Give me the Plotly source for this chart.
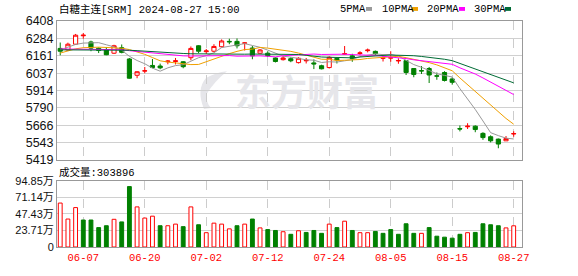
import plotly.graph_objects as go

# ---------------- data ----------------
dates = ["06-04", "06-05", "06-06", "06-07", "06-11", "06-12", "06-13", "06-14", "06-17", "06-18",
         "06-19", "06-20", "06-21", "06-24", "06-25", "06-26", "06-27", "06-28", "07-01", "07-02",
         "07-03", "07-04", "07-05", "07-08", "07-09", "07-10", "07-11", "07-12", "07-15", "07-16",
         "07-17", "07-18", "07-19", "07-22", "07-23", "07-24", "07-25", "07-26", "07-29", "07-30",
         "07-31", "08-01", "08-02", "08-05", "08-06", "08-07", "08-08", "08-09", "08-12", "08-13",
         "08-14", "08-15", "08-16", "08-19", "08-20", "08-21", "08-22", "08-23", "08-26", "08-27"]

opens = [6213, 6202, 6243, 6303, 6259, 6214, 6202, 6179, 6218, 6138,
         6022, 6052, 6092, 6088, 6118, 6120, 6118, 6147, 6232, 6190,
         6193, 6225, 6263, 6263, 6250, 6216, 6179, 6179, 6145, 6133,
         6140, 6112, 6125, 6110, 6090, 6077, 6142, 6172, 6160, 6177,
         6197, 6192, 6143, 6144, 6124, 6126, 6070, 6055, 6070, 6018,
         6042, 5996, 5643, 5656, 5660, 5609, 5585, 5568, 5556, 5605]
highs = [6255, 6254, 6316, 6323, 6268, 6220, 6222, 6239, 6241, 6145,
         6051, 6081, 6138, 6105, 6130, 6145, 6123, 6227, 6236, 6209,
         6243, 6277, 6282, 6284, 6255, 6230, 6209, 6193, 6150, 6160,
         6150, 6150, 6145, 6135, 6097, 6157, 6150, 6230, 6175, 6193,
         6212, 6198, 6168, 6193, 6143, 6128, 6070, 6088, 6081, 6042,
         6051, 6008, 5665, 5681, 5666, 5617, 5595, 5572, 5590, 5624]
lows = [6164, 6198, 6239, 6282, 6193, 6180, 6165, 6174, 6178, 5998,
        6001, 6036, 6072, 6065, 6100, 6099, 6072, 6129, 6180, 6174,
        6186, 6220, 6243, 6213, 6198, 6136, 6175, 6152, 6113, 6127,
        6115, 6106, 6106, 6066, 6064, 6070, 6106, 6170, 6118, 6165,
        6185, 6165, 6120, 6118, 6104, 6024, 6008, 6031, 5967, 5990,
        5978, 5955, 5623, 5640, 5617, 5563, 5545, 5503, 5556, 5585]
closes = [6193, 6243, 6307, 6307, 6215, 6198, 6168, 6232, 6185, 6001,
          6047, 6054, 6077, 6075, 6123, 6125, 6083, 6213, 6193, 6195,
          6227, 6266, 6260, 6232, 6252, 6160, 6202, 6161, 6120, 6145,
          6125, 6143, 6128, 6103, 6068, 6150, 6131, 6175, 6140, 6181,
          6201, 6175, 6146, 6147, 6127, 6042, 6028, 6053, 6024, 6016,
          5985, 5972, 5640, 5660, 5636, 5579, 5556, 5533, 5572, 5607]

ma5 = [6203, 6220, 6241, 6251, 6253, 6254, 6239, 6224, 6200, 6157,
       6127, 6104, 6073, 6051, 6075, 6091, 6097, 6124, 6147, 6162,
       6182, 6219, 6228, 6236, 6247, 6234, 6221, 6201, 6179, 6158,
       6151, 6139, 6132, 6129, 6113, 6118, 6116, 6125, 6133, 6155,
       6166, 6174, 6169, 6170, 6159, 6127, 6098, 6079, 6055, 6033,
       6021, 6010, 5927, 5855, 5779, 5697, 5614, 5593, 5575, 5569]
ma10 = [6180, 6195, 6210, 6218, 6222, 6222, 6220, 6218, 6214, 6205,
        6190, 6171, 6148, 6125, 6116, 6109, 6100, 6098, 6099, 6119,
        6137, 6158, 6176, 6192, 6205, 6208, 6220, 6215, 6208, 6203,
        6192, 6180, 6167, 6154, 6136, 6135, 6127, 6129, 6131, 6134,
        6142, 6145, 6147, 6151, 6157, 6147, 6136, 6124, 6112, 6096,
        6074, 6054, 6003, 5955, 5906, 5859, 5812, 5760, 5715, 5674]
ma20 = [6209, 6209, 6209, 6209, 6209, 6209, 6209, 6209, 6204, 6197,
        6191, 6186, 6180, 6174, 6168, 6163, 6160, 6159, 6160, 6162,
        6163, 6165, 6162, 6158, 6160, 6158, 6160, 6157, 6153, 6161,
        6164, 6169, 6171, 6173, 6170, 6171, 6174, 6172, 6169, 6168,
        6167, 6163, 6157, 6153, 6146, 6141, 6132, 6126, 6122, 6115,
        6108, 6100, 6075, 6053, 6031, 6003, 5974, 5942, 5914, 5885]
ma30 = [6203, 6203, 6203, 6203, 6203, 6203, 6203, 6203, 6203, 6200,
        6197, 6193, 6190, 6186, 6182, 6179, 6177, 6175, 6174, 6173,
        6172, 6172, 6172, 6172, 6172, 6173, 6173, 6174, 6174, 6175,
        6173, 6170, 6164, 6157, 6152, 6150, 6149, 6147, 6146, 6152,
        6157, 6161, 6163, 6166, 6166, 6163, 6161, 6156, 6150, 6144,
        6136, 6126, 6106, 6087, 6066, 6047, 6025, 6004, 5986, 5968]

volumes = [630000, 401000, 565000, 387000, 387000, 278000, 305000, 397000, 360000, 866000,
           575000, 415000, 442000, 305000, 305000, 328000, 292000, 575000, 319000, 205000,
           342000, 328000, 260000, 305000, 328000, 401000, 274000, 250000, 237000, 219000,
           182000, 233000, 209000, 237000, 196000, 328000, 278000, 370000, 237000, 205000,
           205000, 223000, 196000, 250000, 182000, 333000, 196000, 196000, 278000, 155000,
           141000, 127000, 182000, 205000, 209000, 333000, 319000, 305000, 274000, 303896]
vol_up = [1, 1, 1, 0, 0, 0, 0, 1, 0, 0,
          1, 1, 1, 0, 1, 1, 0, 1, 0, 1,
          1, 1, 1, 0, 1, 0, 1, 0, 0, 1,
          0, 1, 0, 0, 0, 1, 0, 1, 0, 1,
          1, 0, 0, 0, 0, 0, 0, 1, 0, 0,
          0, 0, 0, 1, 0, 0, 0, 0, 1, 1]

price_ticks = [5419, 5543, 5666, 5790, 5914, 6037, 6161, 6284, 6408]
vol_ticks = [0, 237125, 474250, 711375, 948500]
vol_tick_text = ["0", "23.71万", "47.43万", "71.14万", "94.85万"]
x_tick_dates = ["06-07", "06-20", "07-02", "07-12", "07-24", "08-05", "08-15", "08-27"]

title_text = "白糖主连[SRM] 2024-08-27 15:00"
vol_title = "成交量:303896"
ma_names = ["5PMA", "10PMA", "20PMA", "30PMA"]

# ---------------- styles ----------------
RED = "#ff0000"
GREEN = "#008000"
MA_COLORS = ["#999999", "#f0a000", "#ff00ff", "#006b35"]
W, H = 578, 276
ML, MR, MT, MB = 57, 56, 21, 21
PW, PH = W - ML - MR, H - MT - MB


def px(x):
    return (x - ML) / PW


def py(y):
    return (H - MB - y) / PH


MONO = "Liberation Mono, 'Noto Sans CJK SC', monospace"

fig = go.Figure()

fig.add_trace(go.Candlestick(
    x=dates, open=opens, high=highs, low=lows, close=closes,
    increasing=dict(line=dict(color=RED, width=1), fillcolor="#ffffff"),
    decreasing=dict(line=dict(color=GREEN, width=1), fillcolor=GREEN),
    whiskerwidth=0, xaxis="x", yaxis="y", showlegend=False, hoverinfo="skip",
))

for name, vals, col in zip(ma_names, [ma5, ma10, ma20, ma30], MA_COLORS):
    fig.add_trace(go.Scatter(x=dates, y=vals, mode="lines", name=name,
                             line=dict(color=col, width=1), xaxis="x", yaxis="y",
                             showlegend=False, hoverinfo="skip"))

fig.add_trace(go.Bar(
    x=dates, y=volumes, width=0.5,
    marker=dict(color=["#ffffff" if u else GREEN for u in vol_up],
                line=dict(color=[RED if u else GREEN for u in vol_up], width=1)),
    xaxis="x2", yaxis="y2", showlegend=False, hoverinfo="skip",
))

price_bottom = py(165)
vol_top = py(186.5)

axis_common = dict(showline=True, mirror=True, linecolor="#999999", linewidth=1, zeroline=False,
                   fixedrange=True)

fig.update_layout(
    width=W, height=H, margin=dict(l=ML, r=MR, t=MT, b=MB),
    paper_bgcolor="#ffffff", plot_bgcolor="#ffffff",
    boxgap=0.46, boxgroupgap=0,
    xaxis=dict(domain=[0, 1], anchor="y", type="category", range=[-0.42, 60.08],
               tickmode="array", tickvals=x_tick_dates, showticklabels=False,
               showgrid=True, gridcolor="#cccccc", griddash="dash", gridwidth=1,
               rangeslider=dict(visible=False), ticks="", **axis_common),
    yaxis=dict(domain=[price_bottom, 1], anchor="x", range=[5419, 6408],
               tickmode="array", tickvals=price_ticks, ticktext=[str(v) for v in price_ticks],
               showgrid=True, gridcolor="#d0d0d0", gridwidth=1, ticks="",
               tickfont=dict(family="Liberation Sans, Arial", size=12.5, color="#111111"),
               **axis_common),
    xaxis2=dict(domain=[0, 1], anchor="y2", type="category", matches="x", range=[-0.42, 60.08],
                tickmode="array", tickvals=x_tick_dates, ticktext=x_tick_dates,
                showgrid=True, gridcolor="#cccccc", griddash="dash", gridwidth=1, ticks="",
                tickfont=dict(family=MONO, size=10.5, color=RED), **axis_common),
    yaxis2=dict(domain=[0, vol_top], anchor="x2", range=[0, 948500],
                tickmode="array", tickvals=vol_ticks, ticktext=vol_tick_text,
                showgrid=True, gridcolor="#d0d0d0", gridwidth=1, ticks="",
                tickfont=dict(family="Liberation Sans, 'Noto Sans CJK SC'", size=11, color="#111111"),
                **axis_common),
)

annotations = [
    dict(x=px(57), y=py(9.5), xref="paper", yref="paper", xanchor="left", yanchor="middle",
         text=title_text, showarrow=False, font=dict(family=MONO, size=10.5, color="#000000")),
    dict(x=px(57), y=py(177.5), xref="paper", yref="paper", xanchor="left", yanchor="middle",
         text=vol_title, showarrow=False, font=dict(family=MONO, size=10.5, color="#000000")),
    dict(x=px(307), y=py(92.5), xref="paper", yref="paper", xanchor="center", yanchor="middle",
         text="东方财富", showarrow=False,
         font=dict(family="Noto Sans CJK SC", size=36, color="#e6e6ea", weight="bold")),
]
legend_x = [338, 380, 425, 472]
marker_x = [366, 412, 459, 505]
shapes = []
for name, lx, mx, col in zip(ma_names, legend_x, marker_x, MA_COLORS):
    annotations.append(dict(x=px(lx), y=py(8.5), xref="paper", yref="paper", xanchor="left",
                            yanchor="middle", text=name, showarrow=False,
                            font=dict(family=MONO, size=10.5, color="#000000")))
    shapes.append(dict(type="rect", xref="paper", yref="paper", x0=px(mx), x1=px(mx + 6),
                       y0=py(10.5), y1=py(6.5), fillcolor=col, line=dict(width=0)))

# watermark logo (decoration)
pts = [(204, 112), (196, 92), (206, 80), (227, 73), (214, 84), (207, 96), (211, 111)]
path = "M {:.4f},{:.4f} Q {:.4f},{:.4f} {:.4f},{:.4f} Q {:.4f},{:.4f} {:.4f},{:.4f} " \
       "Q {:.4f},{:.4f} {:.4f},{:.4f} Q {:.4f},{:.4f} {:.4f},{:.4f} Z".format(
        px(pts[0][0]), py(pts[0][1]), px(pts[1][0]), py(pts[1][1]), px(pts[2][0]), py(pts[2][1]),
        px(216), py(74), px(pts[3][0]), py(pts[3][1]),
        px(pts[4][0]), py(pts[4][1]), px(pts[5][0]), py(pts[5][1]),
        px(205), py(104), px(pts[6][0]), py(pts[6][1]))
shapes.append(dict(type="path", xref="paper", yref="paper", path=path, fillcolor="#e6e6ea",
                   line=dict(width=0), layer="below"))

fig.update_layout(annotations=annotations, shapes=shapes)

fig.write_html("out.html")
